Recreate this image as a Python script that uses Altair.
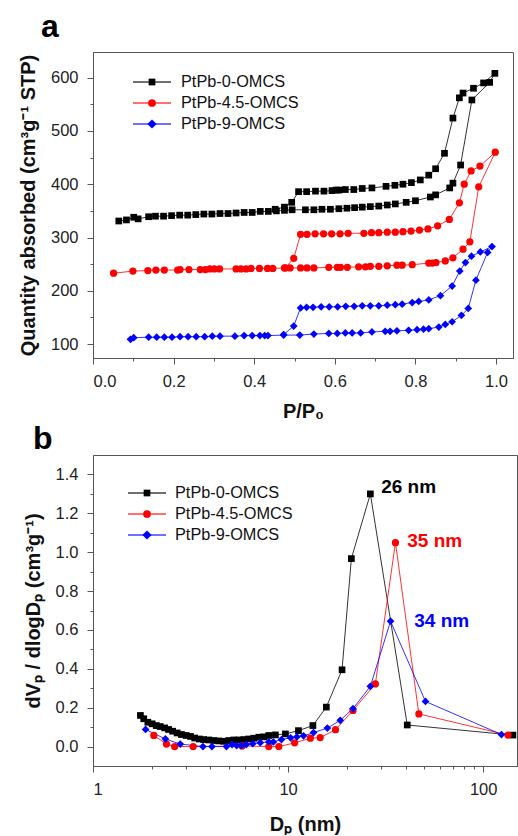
import altair as alt
import pandas as pd

series_names = ["PtPb-0-OMCS", "PtPb-4.5-OMCS", "PtPb-9-OMCS"]
series_colors = ["#000000", "#ff0000", "#0000ff"]
series_shapes = ["square", "circle", "diamond"]
series_sizes = [45, 60, 85]

# ---------------- panel a : N2 isotherms ----------------
a0_ads_p = [0.064, 0.083, 0.101, 0.112, 0.138, 0.155, 0.175, 0.195, 0.215, 0.235, 0.255, 0.275,
            0.295, 0.315, 0.335, 0.355, 0.375, 0.395, 0.415, 0.435, 0.455, 0.475, 0.494, 0.527,
            0.548, 0.568, 0.589, 0.610, 0.630, 0.649, 0.668, 0.688, 0.709, 0.730, 0.750, 0.777,
            0.800, 0.837, 0.850, 0.885, 0.893, 0.912, 0.940, 0.984, 0.997]
a0_ads_q = [331, 333, 338, 335, 339, 340, 340, 341, 342, 342, 343, 344,
            344, 345, 345, 346, 347, 347, 349, 349, 350, 351, 352, 352,
            352, 353, 353, 354, 355, 356, 357, 358, 359, 361, 363, 366,
            369, 376, 380, 393, 402, 436, 558, 591, 608]
a0_des_p = [0.969, 0.944, 0.918, 0.909, 0.893, 0.872, 0.850, 0.833, 0.812, 0.790, 0.769, 0.749,
            0.727, 0.692, 0.668, 0.647, 0.626, 0.610, 0.603, 0.593, 0.573, 0.552, 0.530, 0.510,
            0.493, 0.475, 0.452]
a0_des_q = [590, 580, 571, 562, 524, 458, 429, 417, 408, 403, 400, 398,
            396, 393, 392, 390, 390, 389, 389, 388, 387, 387, 386, 386,
            366, 357, 353]

a45_ads_p = [0.051, 0.099, 0.136, 0.156, 0.177, 0.210, 0.216, 0.238, 0.266, 0.279, 0.290, 0.301,
             0.314, 0.355, 0.367, 0.380, 0.392, 0.413, 0.433, 0.446, 0.475, 0.489, 0.515, 0.531,
             0.548, 0.585, 0.606, 0.614, 0.631, 0.659, 0.676, 0.688, 0.709, 0.730, 0.754, 0.767,
             0.792, 0.833, 0.842, 0.851, 0.874, 0.893, 0.918, 0.935, 0.957, 0.998]
a45_ads_q = [233, 237, 238, 239, 239, 239, 240, 240, 240, 240, 241, 241,
             241, 241, 241, 241, 242, 242, 242, 242, 243, 243, 243, 243,
             243, 244, 244, 244, 244, 245, 245, 246, 246, 247, 248, 248,
             249, 252, 252, 253, 256, 262, 278, 292, 395, 460]
a45_des_p = [0.960, 0.938, 0.921, 0.909, 0.884, 0.855, 0.831, 0.810, 0.789, 0.769, 0.750, 0.730,
             0.709, 0.691, 0.672, 0.633, 0.613, 0.592, 0.572, 0.551, 0.531, 0.515, 0.498, 0.477]
a45_des_q = [434, 425, 400, 365, 334, 322, 316, 314, 312, 311, 310, 310,
             309, 309, 308, 308, 307, 307, 307, 307, 306, 306, 261, 243]

a9_ads_p = [0.093, 0.101, 0.138, 0.158, 0.177, 0.196, 0.216, 0.236, 0.256, 0.277, 0.296, 0.315,
            0.352, 0.375, 0.395, 0.414, 0.426, 0.434, 0.473, 0.513, 0.548, 0.585, 0.606, 0.626,
            0.643, 0.664, 0.692, 0.725, 0.737, 0.754, 0.783, 0.804, 0.820, 0.833, 0.858, 0.874,
            0.891, 0.914, 0.931, 0.950, 0.979, 0.990]
a9_ads_q = [109, 112, 113, 113, 113, 113, 114, 114, 114, 114, 115, 115,
            115, 116, 116, 116, 116, 116, 117, 117, 119, 120, 120, 121,
            121, 121, 123, 124, 124, 125, 126, 127, 128, 129, 132, 137,
            142, 154, 167, 220, 272, 283]
a9_des_p = [0.961, 0.939, 0.924, 0.910, 0.891, 0.862, 0.833, 0.808, 0.792, 0.767, 0.750, 0.730,
            0.709, 0.688, 0.668, 0.648, 0.627, 0.607, 0.586, 0.566, 0.546, 0.530, 0.515, 0.498,
            0.473]
a9_des_q = [273, 265, 253, 237, 209, 191, 183, 180, 178, 175, 174, 173,
            172, 172, 172, 171, 171, 170, 170, 170, 169, 169, 168, 134,
            118]

# ---------------- panel b : pore size distribution ----------------
b0_d = [1.75, 1.82, 1.91, 2.01, 2.11, 2.21, 2.33, 2.44, 2.56, 2.70, 2.84, 3.00, 3.16, 3.32,
        3.51, 3.69, 3.92, 4.16, 4.41, 4.68, 4.96, 5.27, 5.58, 5.93, 6.28, 6.67, 7.08, 7.50,
        7.96, 8.61, 9.69, 11.3, 13.4, 15.7, 18.9, 21.1, 26.4, 40.8, 142.0]
b0_v = [0.160, 0.143, 0.125, 0.117, 0.108, 0.103, 0.096, 0.088, 0.079, 0.070, 0.062, 0.057,
        0.052, 0.044, 0.039, 0.036, 0.034, 0.031, 0.029, 0.027, 0.031, 0.034, 0.034, 0.036,
        0.039, 0.043, 0.048, 0.050, 0.057, 0.060, 0.065, 0.082, 0.108, 0.203, 0.395, 0.967,
        1.300, 0.111, 0.059]
b45_d = [2.05, 2.38, 2.62, 3.26, 5.81, 7.96, 8.96, 10.8, 13.0, 14.6, 17.5, 21.5, 28.0, 35.5,
         46.8, 134.0]
b45_v = [0.057, 0.013, 0.0, 0.0, 0.003, 0.0, 0.0, 0.019, 0.043, 0.046, 0.087, 0.186, 0.322,
         1.049, 0.168, 0.059]
b9_d = [1.86, 2.35, 2.80, 3.66, 4.07, 4.83, 5.16, 5.45, 5.75, 6.10, 6.59, 7.20, 7.96, 8.40,
        9.24, 10.3, 11.1, 12.0, 13.5, 15.9, 18.5, 21.5, 26.4, 33.5, 50.6, 124.0]
b9_v = [0.088, 0.039, 0.013, 0.0, 0.0, 0.0, 0.010, 0.005, 0.005, 0.010, 0.015, 0.020, 0.024,
        0.024, 0.036, 0.045, 0.050, 0.055, 0.072, 0.095, 0.135, 0.195, 0.310, 0.645, 0.232,
        0.062]

peak_labels = ["26 nm", "35 nm", "34 nm"]
peak_label_d = [30.0, 40.8, 44.3]
peak_label_v = [1.334, 1.055, 0.645]

# ---------------- build tables ----------------
rows_a = []
for name, ap, aq, dp, dq in zip(series_names,
                                [a0_ads_p, a45_ads_p, a9_ads_p], [a0_ads_q, a45_ads_q, a9_ads_q],
                                [a0_des_p, a45_des_p, a9_des_p], [a0_des_q, a45_des_q, a9_des_q]):
    k = 0
    for p, q in list(zip(ap, aq)) + list(zip(dp, dq)):
        rows_a.append({"series": name, "p": p, "q": q, "k": k})
        k += 1
df_a = pd.DataFrame(rows_a)

rows_b = []
for name, ds, vs in zip(series_names, [b0_d, b45_d, b9_d], [b0_v, b45_v, b9_v]):
    for d, v in zip(ds, vs):
        rows_b.append({"series": name, "d": d, "v": v})
df_b = pd.DataFrame(rows_b)
df_peaks = pd.DataFrame({"series": series_names, "label": peak_labels,
                         "d": peak_label_d, "v": peak_label_v})

color_scale = alt.Scale(domain=series_names, range=series_colors)
shape_scale = alt.Scale(domain=series_names, range=series_shapes)
size_scale = alt.Scale(domain=series_names, range=series_sizes)
FONT = "Liberation Sans"
one_row = alt.Data(values=[{"z": 1}])


def legend_layers(x_line0, x_line1, x_sym, x_txt, y0, dy):
    layers = []
    for i, (name, col, shp, sz) in enumerate(zip(series_names, series_colors, series_shapes, series_sizes)):
        yy = y0 + i * dy
        layers.append(alt.Chart(one_row).mark_rule(color=col, strokeWidth=1.3, opacity=0.75).encode(
            x=alt.value(x_line0), x2=alt.value(x_line1), y=alt.value(yy)))
        layers.append(alt.Chart(one_row).mark_point(shape=shp, filled=True, opacity=1, color=col, size=sz).encode(
            x=alt.value(x_sym), y=alt.value(yy)))
        layers.append(alt.Chart(one_row).mark_text(align="left", baseline="middle", fontSize=16.3, font=FONT,
                                                   color="#111").encode(
            x=alt.value(x_txt), y=alt.value(yy), text=alt.value(name)))
    return layers


# ---------------- panel a chart ----------------
xa_scale = alt.Scale(domain=[0, 1.042], nice=False, zero=False)
ya_scale = alt.Scale(domain=[74, 648], nice=False, zero=False)

a_line = alt.Chart(df_a).mark_line(strokeWidth=1, opacity=0.8).encode(
    x=alt.X("p:Q", scale=xa_scale,
            axis=alt.Axis(values=[0, 0.2, 0.4, 0.6, 0.8, 1.0], format=".1f", title="P/P₀",
                          orient="bottom", titlePadding=12)),
    y=alt.Y("q:Q", scale=ya_scale,
            axis=alt.Axis(values=[100, 200, 300, 400, 500, 600], format="d",
                          title="Quantity absorbed (cm³g⁻¹ STP)", orient="left", titlePadding=12)),
    color=alt.Color("series:N", scale=color_scale, legend=None),
    detail="series:N",
    order="k:Q",
)
a_pts = alt.Chart(df_a).mark_point(filled=True, opacity=1).encode(
    x=alt.X("p:Q", scale=xa_scale, axis=None),
    y=alt.Y("q:Q", scale=ya_scale, axis=None),
    color=alt.Color("series:N", scale=color_scale, legend=None),
    shape=alt.Shape("series:N", scale=shape_scale, legend=None),
    size=alt.Size("series:O", scale=size_scale, legend=None),
)
a_minor = alt.Chart(df_a).mark_point(opacity=0).encode(
    x=alt.X("p:Q", scale=xa_scale,
            axis=alt.Axis(values=[0.1, 0.3, 0.5, 0.7, 0.9], labels=False, tickSize=3, domain=False,
                          title=None, orient="bottom")),
    y=alt.Y("q:Q", scale=ya_scale,
            axis=alt.Axis(values=[150, 250, 350, 450, 550], labels=False, tickSize=3, domain=False,
                          title=None, orient="left")),
)
a_tag = alt.Chart(one_row).mark_text(align="left", baseline="alphabetic", fontSize=32,
                                     fontWeight="bold", font=FONT, color="#000").encode(
    x=alt.value(-52), y=alt.value(-15), text=alt.value("a"))

panel_a = alt.layer(a_line, a_pts, a_minor, a_tag,
                    *legend_layers(40, 78, 59, 88, 30, 21)).resolve_axis(
    x="independent", y="independent").properties(width=420, height=306)

# ---------------- panel b chart ----------------
xb_scale = alt.Scale(type="log", domain=[1, 149], nice=False)
yb_scale = alt.Scale(domain=[-0.1, 1.5], nice=False, zero=False)

b_line = alt.Chart(df_b).mark_line(strokeWidth=1, opacity=0.8).encode(
    x=alt.X("d:Q", scale=xb_scale,
            axis=alt.Axis(values=[1, 10, 100], format="d", title="Dₚ (nm)", orient="bottom",
                          titlePadding=17)),
    y=alt.Y("v:Q", scale=yb_scale,
            axis=alt.Axis(values=[0, 0.2, 0.4, 0.6, 0.8, 1.0, 1.2, 1.4], format=".1f",
                          title="dVₚ / dlogDₚ (cm³g⁻¹)", orient="left", titlePadding=12)),
    color=alt.Color("series:N", scale=color_scale, legend=None),
    detail="series:N",
)
b_pts = alt.Chart(df_b).mark_point(filled=True, opacity=1).encode(
    x=alt.X("d:Q", scale=xb_scale, axis=None),
    y=alt.Y("v:Q", scale=yb_scale, axis=None),
    color=alt.Color("series:N", scale=color_scale, legend=None),
    shape=alt.Shape("series:N", scale=shape_scale, legend=None),
    size=alt.Size("series:O", scale=size_scale, legend=None),
)
b_minor = alt.Chart(df_b).mark_point(opacity=0).encode(
    x=alt.X("d:Q", scale=xb_scale,
            axis=alt.Axis(values=[2, 3, 4, 5, 6, 7, 8, 9, 20, 30, 40, 50, 60, 70, 80, 90],
                          labels=False, tickSize=3, domain=False, title=None, orient="bottom")),
    y=alt.Y("v:Q", scale=yb_scale,
            axis=alt.Axis(values=[0.1, 0.3, 0.5, 0.7, 0.9, 1.1, 1.3], labels=False, tickSize=3,
                          domain=False, title=None, orient="left")),
)
b_peaks = alt.Chart(df_peaks).mark_text(align="left", baseline="middle", fontSize=19,
                                        fontWeight="bold", font=FONT).encode(
    x=alt.X("d:Q", scale=xb_scale, axis=None),
    y=alt.Y("v:Q", scale=yb_scale, axis=None),
    text="label:N",
    color=alt.Color("series:N", scale=color_scale, legend=None),
)
b_tag = alt.Chart(one_row).mark_text(align="left", baseline="alphabetic", fontSize=32,
                                     fontWeight="bold", font=FONT, color="#000").encode(
    x=alt.value(-60), y=alt.value(-6), text=alt.value("b"))

panel_b = alt.layer(b_line, b_pts, b_minor, b_peaks, b_tag,
                    *legend_layers(35, 73, 54, 82, 38, 21)).resolve_axis(
    x="independent", y="independent").properties(width=424, height=311)

chart = alt.vconcat(panel_a, panel_b, spacing=0).properties(
    padding={"left": 17, "top": 10, "right": 0, "bottom": 0}
).configure_axis(
    labelFont=FONT, labelFontSize=16.5, labelColor="#222", titleFont=FONT, titleFontSize=20,
    titleFontWeight="bold", titleColor="#111", domainColor="#555", tickColor="#555",
    grid=False, tickSize=6, labelPadding=9,
).configure_view(stroke="#555", strokeWidth=1)

chart.save("out.html", embed_options={"renderer": "svg", "actions": False})
